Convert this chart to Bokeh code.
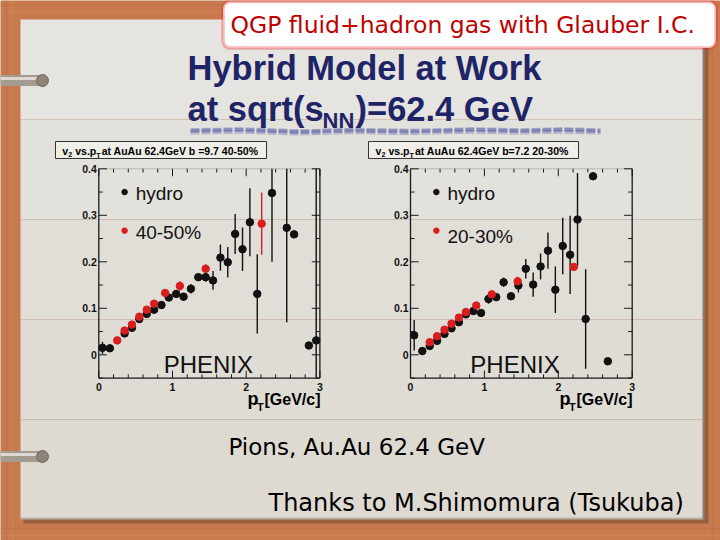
import numpy as np
from bokeh.plotting import figure
from bokeh.models import Range1d, BoxAnnotation
from bokeh.core.properties import value
from bokeh.embed import file_html
from bokeh.resources import INLINE

# ---------------- data ----------------
p1_hydro_pt = [0.05, 0.15, 0.35, 0.45, 0.55, 0.65, 0.75, 0.85, 0.95, 1.05, 1.15, 1.25, 1.35,
               1.45, 1.55, 1.65, 1.75, 1.85, 1.95, 2.05, 2.15, 2.35, 2.55, 2.65, 2.85, 2.95]
p1_hydro_v2 = [0.015, 0.014, 0.046, 0.058, 0.077, 0.088, 0.097, 0.107, 0.123, 0.131, 0.125, 0.142, 0.167,
               0.167, 0.160, 0.209, 0.199, 0.260, 0.227, 0.285, 0.131, 0.348, 0.273, 0.259, 0.020, 0.031]
p1_hydro_err = [0.013, 0.003, 0.003, 0.003, 0.003, 0.003, 0.003, 0.003, 0.004, 0.006, 0.008, 0.010, 0.004,
                0.010, 0.020, 0.028, 0.033, 0.043, 0.047, 0.073, 0.085, 0.148, 0.203, 0.003, 0.003, 0.5]
p1_data_pt = [0.25, 0.35, 0.45, 0.55, 0.65, 0.75, 0.90, 1.10, 1.45, 2.21]
p1_data_v2 = [0.031, 0.052, 0.065, 0.082, 0.097, 0.110, 0.133, 0.148, 0.185, 0.282]
p1_data_err = [0.002, 0.003, 0.003, 0.003, 0.003, 0.003, 0.003, 0.010, 0.010, 0.067]

p2_hydro_pt = [0.05, 0.16, 0.26, 0.36, 0.46, 0.555, 0.655, 0.75, 0.85, 0.955, 1.055, 1.16, 1.26,
               1.36, 1.46, 1.56, 1.66, 1.76, 1.86, 1.96, 2.06, 2.16, 2.26, 2.37, 2.47, 2.67]
p2_hydro_v2 = [0.042, 0.008, 0.019, 0.030, 0.045, 0.057, 0.070, 0.087, 0.094, 0.090, 0.120, 0.124, 0.156,
               0.126, 0.149, 0.185, 0.151, 0.190, 0.224, 0.140, 0.234, 0.215, 0.291, 0.077, 0.384, -0.014]
p2_hydro_err = [0.033, 0.003, 0.003, 0.003, 0.003, 0.003, 0.003, 0.003, 0.003, 0.004, 0.010, 0.006, 0.010,
                0.003, 0.015, 0.021, 0.026, 0.028, 0.039, 0.050, 0.061, 0.084, 0.100, 0.107, 0.003, 0.003]
p2_data_pt = [0.26, 0.36, 0.46, 0.555, 0.655, 0.75, 0.89, 1.10, 1.45, 2.21]
p2_data_v2 = [0.027, 0.040, 0.054, 0.067, 0.080, 0.092, 0.106, 0.130, 0.158, 0.189]
p2_data_err = [0.002, 0.002, 0.002, 0.002, 0.002, 0.002, 0.002, 0.003, 0.010, 0.003]

x_ticks = [0, 1, 2, 3]
x_tick_labels = ["0", "1", "2", "3"]
y_ticks = [0.0, 0.1, 0.2, 0.3, 0.4]
y_tick_labels = ["0", "0.1", "0.2", "0.3", "0.4"]

# ---------------- figure ----------------
W, H = 720, 540

p = figure(width=W, height=H, x_range=Range1d(0, 720), y_range=Range1d(540, 0),
           output_backend="svg", toolbar_location=None, min_border=0,
           x_axis_type=None, y_axis_type=None)
p.grid.visible = False
p.outline_line_color = None
p.background_fill_color = "#c87a4e"
p.border_fill_color = "#c87a4e"


def txt(x, y, s, size, color="black", font="Liberation Sans", style="normal",
        align="left", xr=None, yr=None, ky=1.0, level="glyph"):
    """y is the text baseline; text is drawn with 'middle' baseline."""
    kw = {}
    if xr:
        kw["x_range_name"] = xr
        kw["y_range_name"] = yr
    ym = y + (0.35 * size / ky if xr else -0.35 * size)
    p.text(x=[x], y=[ym], text=[s], text_font=value(font), text_font_size=f"{size:.1f}px",
           text_font_style=style, text_color=color, text_align=align,
           text_baseline="middle", level=level, **kw)


# wood streaks
for yy, c in [(5, "#bf6f44"), (12, "#d08658"), (528, "#bf6f44"), (535, "#d38a5c")]:
    p.segment(x0=[0], y0=[yy], x1=[720], y1=[yy], line_color=c, line_width=2, line_alpha=0.5)
for xx, c in [(6, "#bd6c42"), (12, "#d38a5c"), (712, "#bd6c42")]:
    p.segment(x0=[xx], y0=[0], x1=[xx], y1=[540], line_color=c, line_width=2, line_alpha=0.5)

# paper shadow and paper (soft vertical tone change)
p.quad(left=[23], right=[708], top=[22], bottom=[523], fill_color="#6e4a32", fill_alpha=0.55, line_color=None)
paper_tops = [19, 119, 219, 319, 419]
paper_bottoms = [119, 219, 319, 419, 518]
paper_cols = ["#e5e4e0", "#e3e1dc", "#e1ded8", "#dfdcd5", "#dedad2"]
p.quad(left=[20] * 5, right=[703] * 5, top=paper_tops, bottom=paper_bottoms,
       fill_color=paper_cols, line_color=None)
p.segment(x0=[20], y0=[518], x1=[703], y1=[518], line_color="#b9b2a6", line_width=2)
p.segment(x0=[703], y0=[19], x1=[703], y1=[518], line_color="#8d7f70", line_width=2)

# metal rods
for ry in [80, 456]:
    p.segment(x0=[0], y0=[ry], x1=[42], y1=[ry], line_color="#a39b90", line_width=11, line_cap="butt")
    p.segment(x0=[0], y0=[ry - 2], x1=[42], y1=[ry - 2], line_color="#ddd9d2", line_width=3, line_cap="butt")
    p.scatter(x=[42], y=[ry], size=12, marker="circle", fill_color="#8e8478", line_color="#6f665c")

# chalk underline
for dy, lw, a in [(0, 2.5, 0.5), (2, 1.5, 0.45), (-1.5, 1.5, 0.35), (3.5, 1.2, 0.3), (1, 1, 0.4)]:
    p.line(x=[190, 240, 300, 350, 410, 470, 520, 560, 600],
           y=[130 + dy, 129 + dy, 131 + dy, 129.5 + dy, 130.5 + dy, 129 + dy, 130 + dy, 129 + dy, 130 + dy],
           line_color="#3b3f9a", line_width=lw, line_alpha=a, line_dash="9 2")

# title
navy = "#1f2466"
txt(187, 80, "Hybrid Model at Work", 34.5, color=navy, style="bold")
txt(187, 121, "at sqrt(s", 34.5, color=navy, style="bold")
txt(322, 128, "NN", 22, color=navy, style="bold")
txt(355, 121, ")=62.4 GeV", 34.5, color=navy, style="bold")

# ---------------- panels ----------------
panels = [
    dict(name="p1", ox=98.3, oy=354.3, kx=73.7, ky=465.0,
         hpt=p1_hydro_pt, hv=p1_hydro_v2, he=p1_hydro_err,
         dpt=p1_data_pt, dv=p1_data_v2, de=p1_data_err,
         label="40-50%", title_rest="at AuAu 62.4GeV b =9.7 40-50%",
         box=(55, 266, 141, 158), tx=61.7, phen=0.88, px=247, red_y=0.262),
    dict(name="p2", ox=410.0, oy=354.3, kx=73.9, ky=465.0,
         hpt=p2_hydro_pt, hv=p2_hydro_v2, he=p2_hydro_err,
         dpt=p2_data_pt, dv=p2_data_v2, de=p2_data_err,
         label="20-30%", title_rest="at AuAu 62.4GeV b=7.2 20-30%",
         box=(368, 578, 141, 158), tx=375, phen=0.81, px=559, red_y=0.255),
]

YMIN, YMAX, XMIN, XMAX = -0.05, 0.4, 0.0, 3.0
for P in panels:
    xr, yr = P["name"] + "x", P["name"] + "y"
    ky, kx = P["ky"], P["kx"]
    p.extra_x_ranges[xr] = Range1d(-P["ox"] / kx, (720 - P["ox"]) / kx)
    p.extra_y_ranges[yr] = Range1d((P["oy"] - 540) / ky, P["oy"] / ky)
    kw = dict(x_range_name=xr, y_range_name=yr)

    # title box
    bl, br, bt, bb = P["box"]
    p.quad(left=[bl], right=[br], top=[bt], bottom=[bb], fill_color="#f3f1ec", fill_alpha=0.75,
           line_color="#333333", line_width=1)
    tx = P["tx"]
    txt(tx, 154, "v", 10.5, style="bold")
    txt(tx + 6.1, 156.5, "2", 7, style="bold")
    txt(tx + 13, 154, "vs.p", 10.5, style="bold")
    txt(tx + 34, 157, "T", 7, style="bold")
    txt(tx + 39.5, 154, P["title_rest"], 10.5, style="bold")

    # frame
    p.segment(x0=[XMIN, XMIN, XMAX], y0=[YMIN, YMIN, YMIN], x1=[XMIN, XMAX, XMAX], y1=[YMAX, YMIN, YMAX],
              line_color="#1a1a1a", line_width=1.3, **kw)
    p.segment(x0=[XMIN], y0=[YMAX], x1=[XMAX], y1=[YMAX], line_color="#9a9a9a", line_width=0.6, **kw)

    # ticks
    xminor = np.round(np.arange(0, 3.0001, 0.2), 3)
    lmaj, lmin = 0.016, 0.008
    xl = [lmaj if abs(t - round(t)) < 1e-6 else lmin for t in xminor]
    p.segment(x0=xminor, y0=[YMIN] * len(xminor), x1=xminor, y1=[YMIN + l for l in xl],
              line_color="#1a1a1a", line_width=1, **kw)
    p.segment(x0=xminor, y0=[YMAX] * len(xminor), x1=xminor, y1=[YMAX - l for l in xl],
              line_color="#1a1a1a", line_width=1, **kw)
    yminor = np.round(np.arange(-0.05, 0.4001, 0.05), 3)
    yl = [0.11 if abs(t * 10 - round(t * 10)) < 1e-6 else 0.055 for t in yminor]
    p.segment(x0=[XMIN] * len(yminor), y0=yminor, x1=yl, y1=yminor, line_color="#1a1a1a", line_width=1, **kw)
    p.segment(x0=[XMAX] * len(yminor), y0=yminor, x1=[XMAX - l for l in yl], y1=yminor,
              line_color="#1a1a1a", line_width=1, **kw)

    # tick labels
    p.text(x=x_ticks, y=[YMIN - 5 / ky] * len(x_ticks), text=x_tick_labels,
           text_font=value("Liberation Sans"), text_font_size="10.5px", text_font_style="bold",
           text_align="center", text_baseline="top", text_color="#111111", **kw)
    p.text(x=[-2 / kx] * len(y_ticks), y=y_ticks, text=y_tick_labels,
           text_font=value("Liberation Sans"), text_font_size="10.5px", text_font_style="bold",
           text_align="right", text_baseline="middle", text_color="#111111", **kw)

    # axis title
    axx = (P["px"] - P["ox"]) / kx
    txt(axx, YMIN - 27 / ky, "p", 18, style="bold", xr=xr, yr=yr, ky=ky)
    txt(axx + 9.5 / kx, YMIN - 33 / ky, "T", 11, style="bold", xr=xr, yr=yr, ky=ky)
    txt(axx + 17 / kx, YMIN - 27 / ky, "[GeV/c]", 16, style="bold", xr=xr, yr=yr, ky=ky)

    # error bars (clipped to frame)
    for pts, vs, es, col in [(P["hpt"], P["hv"], P["he"], "#111111"), (P["dpt"], P["dv"], P["de"], "#d81e1e")]:
        pts, vs, es = np.array(pts), np.array(vs), np.array(es)
        lo = np.clip(vs - es, YMIN, YMAX)
        hi = np.clip(vs + es, YMIN, YMAX)
        p.segment(x0=pts, y0=lo, x1=pts, y1=hi, line_color=col, line_width=1.4, **kw)

    # markers
    p.scatter(x=P["hpt"], y=P["hv"], size=7.5, marker="circle", fill_color="#111111", line_color="#111111", **kw)
    p.scatter(x=P["dpt"], y=P["dv"], size=7.5, marker="circle", fill_color="#d81e1e", line_color="#d81e1e", **kw)

    # legend
    lx = 0.35
    p.scatter(x=[lx], y=[0.35], size=5.5, marker="circle", fill_color="#111111", line_color="#111111", **kw)
    p.scatter(x=[lx], y=[0.267], size=5.5, marker="circle", fill_color="#d81e1e", line_color="#d81e1e", **kw)
    p.text(x=[lx + 0.15, lx + 0.15], y=[0.347, P["red_y"]], text=["hydro", P["label"]],
           text_font=value("Liberation Sans"), text_font_size="19px", text_color="#111111",
           text_baseline="middle", **kw)

    # PHENIX
    txt(P["phen"], YMIN + 5 / ky, "PHENIX", 24, color="#111111", xr=xr, yr=yr, ky=ky)

# bottom texts
txt(228, 455, "Pions, Au.Au 62.4 GeV", 23, font="DejaVu Sans")
txt(268, 511, "Thanks to M.Shimomura (Tsukuba)", 24, font="DejaVu Sans")

# red banner (box as annotation, text drawn above it in the overlay level)
box = BoxAnnotation(left=222.5, right=715.5, top=1, bottom=47.5, fill_color="white", fill_alpha=1.0,
                    line_color="#e41010", line_width=3.5, border_radius=7)
p.add_layout(box)
txt(230, 33, "QGP fluid+hadron gas with Glauber I.C.", 23.5, color="#c00000", font="DejaVu Sans",
    level="overlay")

open("out.html", "w").write(file_html(p, INLINE))
